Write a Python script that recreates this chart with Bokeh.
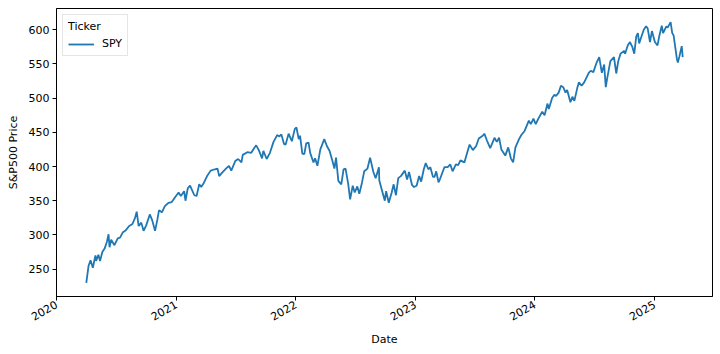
import pandas as pd
from datetime import datetime
from bokeh.plotting import figure
from bokeh.models import Range1d, FixedTicker, DatetimeTickFormatter, Legend, LegendItem
from bokeh.embed import file_html
from bokeh.resources import INLINE

ticker = "SPY"
year_ticks = ["2020-01-01", "2021-01-01", "2022-01-01", "2023-01-01", "2024-01-01", "2025-01-01"]
price_ticks = [250, 300, 350, 400, 450, 500, 550, 600]

dates = [
    "2020-04-01", "2020-04-08", "2020-04-14", "2020-04-21", "2020-04-29", "2020-05-01", "2020-05-08",
    "2020-05-13", "2020-05-20", "2020-05-27", "2020-06-03", "2020-06-08", "2020-06-11", "2020-06-16",
    "2020-06-26", "2020-07-06", "2020-07-13", "2020-07-22", "2020-07-31", "2020-08-10", "2020-08-20",
    "2020-08-28", "2020-09-02", "2020-09-08", "2020-09-16", "2020-09-23", "2020-10-01", "2020-10-12",
    "2020-10-19", "2020-10-28", "2020-11-04", "2020-11-09", "2020-11-18", "2020-11-27", "2020-12-08",
    "2020-12-18", "2020-12-31", "2021-01-08", "2021-01-15", "2021-01-25", "2021-01-29", "2021-02-05",
    "2021-02-12", "2021-02-25", "2021-03-04", "2021-03-12", "2021-03-18", "2021-03-26", "2021-04-05",
    "2021-04-16", "2021-04-29", "2021-05-07", "2021-05-12", "2021-05-21", "2021-06-04", "2021-06-11",
    "2021-06-18", "2021-06-30", "2021-07-09", "2021-07-19", "2021-07-23", "2021-08-06", "2021-08-18",
    "2021-08-27", "2021-09-02", "2021-09-10", "2021-09-20", "2021-09-24", "2021-10-04", "2021-10-14",
    "2021-10-25", "2021-11-05", "2021-11-12", "2021-11-18", "2021-11-26", "2021-12-01", "2021-12-10",
    "2021-12-20", "2021-12-29", "2022-01-03", "2022-01-10", "2022-01-14", "2022-01-21", "2022-01-27",
    "2022-02-02", "2022-02-09", "2022-02-14", "2022-02-24", "2022-03-01", "2022-03-08", "2022-03-17",
    "2022-03-29", "2022-04-06", "2022-04-14", "2022-04-22", "2022-04-29", "2022-05-04", "2022-05-11",
    "2022-05-20", "2022-05-27", "2022-06-02", "2022-06-10", "2022-06-16", "2022-06-24", "2022-06-30",
    "2022-07-08", "2022-07-14", "2022-07-22", "2022-07-29", "2022-08-08", "2022-08-16", "2022-08-26",
    "2022-09-02", "2022-09-12", "2022-09-13", "2022-09-23", "2022-09-30", "2022-10-04", "2022-10-12",
    "2022-10-21", "2022-10-27", "2022-11-03", "2022-11-10", "2022-11-18", "2022-11-30", "2022-12-07",
    "2022-12-13", "2022-12-22", "2022-12-28", "2023-01-05", "2023-01-13", "2023-01-19", "2023-01-27",
    "2023-02-02", "2023-02-10", "2023-02-16", "2023-02-24", "2023-03-01", "2023-03-06", "2023-03-13",
    "2023-03-17", "2023-03-31", "2023-04-10", "2023-04-18", "2023-04-25", "2023-05-05", "2023-05-12",
    "2023-05-19", "2023-05-31", "2023-06-09", "2023-06-16", "2023-06-26", "2023-07-06", "2023-07-14",
    "2023-07-26", "2023-07-31", "2023-08-08", "2023-08-18", "2023-08-31", "2023-09-07", "2023-09-14",
    "2023-09-21", "2023-10-03", "2023-10-12", "2023-10-20", "2023-10-27", "2023-11-03", "2023-11-14",
    "2023-11-21", "2023-12-01", "2023-12-14", "2023-12-20", "2023-12-28", "2024-01-04", "2024-01-12",
    "2024-01-24", "2024-01-31", "2024-02-09", "2024-02-13", "2024-02-23", "2024-03-01", "2024-03-06",
    "2024-03-14", "2024-03-21", "2024-03-28", "2024-04-04", "2024-04-09", "2024-04-19", "2024-04-25",
    "2024-05-01", "2024-05-10", "2024-05-15", "2024-05-23", "2024-05-31", "2024-06-07", "2024-06-14",
    "2024-06-20", "2024-06-28", "2024-07-08", "2024-07-16", "2024-07-24", "2024-07-31", "2024-08-05",
    "2024-08-09", "2024-08-19", "2024-08-30", "2024-09-06", "2024-09-12", "2024-09-19", "2024-09-30",
    "2024-10-03", "2024-10-11", "2024-10-18", "2024-10-25", "2024-10-31", "2024-11-06", "2024-11-11",
    "2024-11-15", "2024-11-22", "2024-11-29", "2024-12-06", "2024-12-11", "2024-12-18", "2024-12-24",
    "2025-01-02", "2025-01-10", "2025-01-16", "2025-01-23", "2025-01-27", "2025-02-06", "2025-02-10",
    "2025-02-19", "2025-02-24", "2025-02-28", "2025-03-06", "2025-03-10", "2025-03-13", "2025-03-18",
    "2025-03-25", "2025-03-28",
]

prices = [
    230, 255, 263, 252, 270, 262, 271,
    262, 275, 280, 290, 301, 282, 293,
    285, 295, 296, 304, 307, 313, 316,
    325, 334, 313, 318, 306, 314, 330,
    322, 306, 322, 336, 333, 342, 347,
    348, 357, 362, 357, 364, 350, 368,
    372, 358, 357, 374, 370, 376, 386,
    394, 396, 397, 386, 391, 398, 401,
    394, 408, 411, 406, 417, 421, 420,
    427, 431, 424, 412, 423, 411, 420,
    436, 446, 444, 447, 433, 432, 448,
    437, 455, 457, 440, 445, 419, 418,
    434, 435, 420, 406, 412, 401, 425,
    440, 430, 423, 410, 397, 413, 379,
    374, 396, 397, 375, 352, 372, 362,
    371, 360, 376, 393, 397, 413, 392,
    383, 399, 380, 362, 350, 364, 347,
    362, 374, 358, 383, 386, 394, 381,
    392, 373, 370, 372, 386, 378, 396,
    405, 396, 399, 385, 385, 393, 377,
    381, 399, 399, 403, 393, 403, 402,
    409, 406, 421, 432, 424, 430, 441,
    445, 448, 438, 427, 442, 436, 442,
    425, 416, 428, 412, 406, 428, 440,
    446, 452, 467, 462, 470, 462, 470,
    480, 475, 492, 484, 500, 505, 503,
    508, 518, 516, 508, 512, 494, 502,
    496, 515, 523, 518, 523, 530, 537,
    540, 538, 552, 560, 537, 549, 516,
    528, 554, 560, 536, 554, 565, 569,
    565, 577, 582, 575, 565, 590, 595,
    580, 590, 600, 605, 602, 582, 598,
    582, 577, 592, 606, 595, 605, 603,
    611, 595, 592, 572, 558, 552, 561,
    576, 560,
]

x = pd.to_datetime(dates)

p = figure(
    width=720, height=354,
    x_axis_type="datetime",
    output_backend="svg", toolbar_location=None,
    x_range=Range1d(datetime(2020, 1, 1), datetime(2025, 6, 27)),
    y_range=Range1d(210, 631),
    min_border_left=56, min_border_right=8, min_border_top=8, min_border_bottom=58,
)

r = p.line(x, prices, line_color="#1f77b4", line_width=1.8)

p.xaxis.ticker = FixedTicker(ticks=[pd.Timestamp(d).value / 1e6 for d in year_ticks])
p.xaxis.formatter = DatetimeTickFormatter(years="%Y", months="%Y", days="%Y", hours="%Y")
p.yaxis.ticker = FixedTicker(ticks=price_ticks)

p.xaxis.axis_label = "Date"
p.yaxis.axis_label = "S&P500 Price"
p.xaxis.major_label_orientation = 0.5236

for ax in (p.xaxis, p.yaxis):
    ax.axis_label_text_font = "DejaVu Sans"
    ax.axis_label_text_font_size = "11px"
    ax.axis_label_text_font_style = "normal"
    ax.axis_label_text_color = "black"
    ax.major_label_text_font = "DejaVu Sans"
    ax.major_label_text_font_size = "11px"
    ax.major_label_text_color = "black"
    ax.axis_line_color = "black"
    ax.major_tick_line_color = "black"
    ax.major_tick_out = 4
    ax.major_tick_in = 0
    ax.minor_tick_line_color = None
    ax.major_label_standoff = 3

p.xaxis.axis_label_standoff = 6
p.yaxis.axis_label_standoff = 6

p.xgrid.grid_line_color = None
p.ygrid.grid_line_color = None
p.outline_line_color = "black"
p.outline_line_width = 1
p.outline_line_alpha = 1

legend = Legend(items=[LegendItem(label=ticker, renderers=[r])], location="top_left")
legend.title = "Ticker"
legend.title_text_font = "DejaVu Sans"
legend.title_text_font_size = "11px"
legend.title_text_font_style = "normal"
legend.title_text_color = "black"
legend.title_standoff = 4
legend.label_text_font = "DejaVu Sans"
legend.label_text_font_size = "11px"
legend.label_text_color = "black"
legend.label_standoff = 8
legend.glyph_width = 26
legend.glyph_height = 12
legend.padding = 5
legend.spacing = 0
legend.margin = 6
legend.border_line_color = "#cccccc"
legend.background_fill_alpha = 0.8
p.add_layout(legend)

open("out.html", "w").write(file_html(p, INLINE))
